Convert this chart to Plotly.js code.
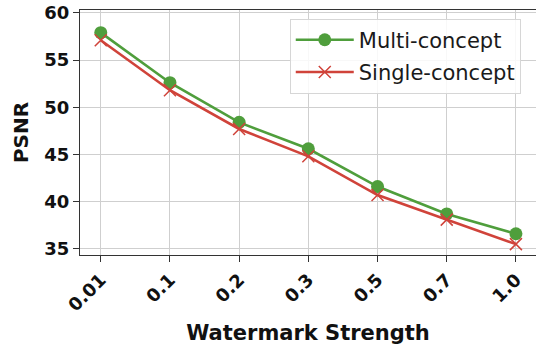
<!DOCTYPE html>
<html>
<head>
<meta charset="utf-8">
<script src="https://cdn.plot.ly/plotly-3.0.1.min.js"></script>
<style>html,body{margin:0;padding:0;background:#fff;}#chart{width:536px;height:345px;}</style>
</head>
<body>
<div id="chart"></div>
<script>
const strengths = ["0.01", "0.1", "0.2", "0.3", "0.5", "0.7", "1.0"];
const multiConcept = [57.9, 52.6, 48.4, 45.6, 41.6, 38.7, 36.6];
const singleConcept = [57.1, 51.8, 47.7, 44.8, 40.7, 38.1, 35.5];
const yTicks = [35, 40, 45, 50, 55, 60];

const green = "#4f9e3c";
const red = "#d0433a";

const traces = [
  {x: strengths, y: multiConcept, name: "Multi-concept", legendgroup: "a", type: "scatter", mode: "lines+markers",
   line: {color: green, width: 2.6}, marker: {symbol: "circle", size: 13, color: green}},
  {x: strengths, y: singleConcept, name: "Single-concept", legendgroup: "b", type: "scatter", mode: "lines+markers",
   line: {color: red, width: 2.6}, marker: {symbol: "x-thin", size: 12, color: red, line: {color: red, width: 1.5}}}
];

const layout = {
  width: 536, height: 345,
  margin: {l: 80, r: 0, t: 10, b: 90},
  paper_bgcolor: "#fff", plot_bgcolor: "#fff",
  font: {family: "DejaVu Sans", color: "#111"},
  showlegend: true,
  legend: {x: 0.46, y: 0.965, xanchor: "left", yanchor: "top", bgcolor: "rgba(255,255,255,0.85)",
           bordercolor: "#d6d6d6", borderwidth: 1, font: {family: "DejaVu Sans", size: 21, color: "#1a1a1a"},
           traceorder: "grouped", tracegroupgap: 2, itemwidth: 58},
  xaxis: {type: "category", range: [-0.3, 6.29], showline: true, linecolor: "#333", linewidth: 1.2, mirror: true,
          ticks: "outside", ticklen: 6, tickcolor: "#333", tickangle: -45,
          tickfont: {family: "DejaVu Sans", size: 18, color: "#111", weight: "bold"},
          showgrid: true, gridcolor: "#cfcfcf", gridwidth: 1, zeroline: false,
          title: {text: "<b>Watermark Strength</b>", font: {family: "DejaVu Sans", size: 21, color: "#111"}, standoff: 12}},
  yaxis: {range: [34.35, 60.3], tickvals: yTicks, showline: true, linecolor: "#333", linewidth: 1.2,
          ticks: "outside", ticklen: 6, tickcolor: "#333",
          tickfont: {family: "DejaVu Sans", size: 18, color: "#111", weight: "bold"},
          showgrid: true, gridcolor: "#cfcfcf", gridwidth: 1, zeroline: false,
          title: {text: "<b>PSNR</b>", font: {family: "DejaVu Sans", size: 20, color: "#111"}, standoff: 10}}
};

Plotly.newPlot("chart", traces, layout, {displayModeBar: false, staticPlot: true});
</script>
</body>
</html>
